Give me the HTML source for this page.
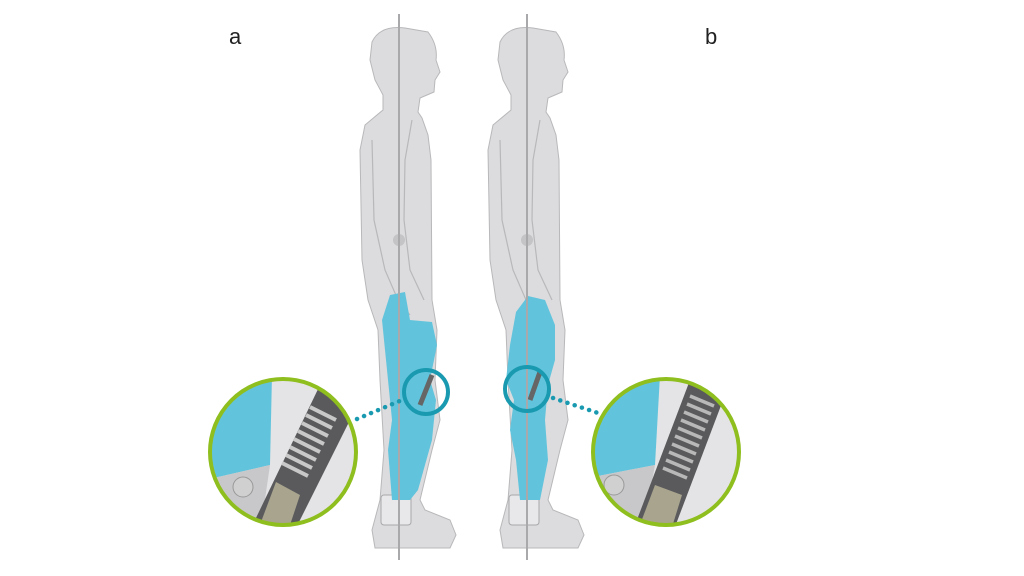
<!DOCTYPE html>
<html><head><style>body{margin:0;background:#fff}svg{display:block}</style></head><body>
<svg width="1024" height="576" viewBox="0 0 1024 576" xmlns="http://www.w3.org/2000/svg">
<rect width="1024" height="576" fill="#fff"/>
<defs>
<g id="man">
<path d="M372,42 Q380,25 405,28 L428,32 Q438,45 436,60 L440,72 L435,80 L434,92 L420,98 L418,112 L422,118 L428,135 L431,160 L432,300 L437,330 L435,380 L440,420 L432,450 L420,500 L425,510 L450,520 L456,535 L450,548 L375,548 L372,530 L380,500 L384,450 L380,380 L378,330 L368,300 L362,260 L360,150 L365,125 L383,110 L383,95 L375,80 L370,60 Z" fill="#dcdcde" stroke="#b8b8ba" stroke-width="1"/>
<path d="M372,140 L374,220 L385,270 L398,300 L410,315" fill="none" stroke="#b8b8ba" stroke-width="1.2"/>
<path d="M412,120 L405,160 L404,220 L410,270 L424,300" fill="none" stroke="#b8b8ba" stroke-width="1.2"/>
<circle cx="399" cy="240" r="6" fill="#c4c4c6"/>
<rect x="381" y="495" width="30" height="30" rx="3" fill="#e8e8ea" stroke="#a8a8aa"/>
</g>
</defs>
<use href="#man"/>
<use href="#man" transform="translate(128,0)"/>
<path d="M390,295 L405,292 L410,320 L432,322 L437,345 L430,380 L436,400 L432,440 L418,490 L410,500 L392,500 L388,450 L392,420 L388,380 L384,340 L382,320 Z" fill="#62c4dc"/>
<path d="M516,312 L528,296 L545,300 L555,325 L555,360 L548,385 L545,420 L548,460 L540,500 L520,500 L516,460 L510,430 L514,400 L506,380 L510,345 Z" fill="#62c4dc"/>
<!-- actuators -->
<line x1="432" y1="375" x2="420" y2="405" stroke="#666" stroke-width="5"/>
<line x1="540" y1="372" x2="530" y2="400" stroke="#666" stroke-width="5"/>
<line x1="399" y1="14" x2="399" y2="560" stroke="#a9a9ab" stroke-width="2"/>
<line x1="527" y1="14" x2="527" y2="560" stroke="#a9a9ab" stroke-width="2"/>
<circle cx="426" cy="392" r="22" fill="none" stroke="#1a9ab0" stroke-width="4"/>
<circle cx="527" cy="389" r="22" fill="none" stroke="#1a9ab0" stroke-width="4"/>
<line x1="357" y1="419" x2="402" y2="400" stroke="#1a9ab0" stroke-width="4.5" stroke-linecap="round" stroke-dasharray="0.1 7.5"/>
<line x1="553" y1="398" x2="598" y2="413" stroke="#1a9ab0" stroke-width="4.5" stroke-linecap="round" stroke-dasharray="0.1 7.5"/>
<!-- zoom circles -->
<clipPath id="c1"><circle cx="283" cy="452" r="73"/></clipPath>
<clipPath id="c2"><circle cx="666" cy="452" r="73"/></clipPath>
<g clip-path="url(#c1)">
<rect x="200" y="370" width="170" height="170" fill="#e4e4e6"/>
<path d="M205,375 L272,375 L270,465 L205,480 Z" fill="#62c4dc"/>
<path d="M205,480 L270,465 L262,520 L205,530 Z" fill="#c8c8ca"/>
<path d="M320,385 L355,410 L290,540 L255,520 Z" fill="#5a5a5c"/>
<g stroke="#c8c8c8" stroke-width="4">
<line x1="310" y1="407" x2="336" y2="420"/><line x1="306" y1="415" x2="332" y2="428"/>
<line x1="302" y1="423" x2="328" y2="436"/><line x1="298" y1="431" x2="324" y2="444"/>
<line x1="294" y1="439" x2="320" y2="452"/><line x1="290" y1="447" x2="316" y2="460"/>
<line x1="286" y1="455" x2="312" y2="468"/><line x1="282" y1="463" x2="308" y2="476"/>
</g>
<path d="M276,482 L300,495 L285,540 L258,530 Z" fill="#a8a48e"/>
<circle cx="243" cy="487" r="10" fill="#d0d0d0" stroke="#999"/>
</g>
<g clip-path="url(#c2)">
<rect x="583" y="370" width="170" height="170" fill="#e4e4e6"/>
<path d="M588,375 L660,375 L655,465 L588,478 Z" fill="#62c4dc"/>
<path d="M588,478 L655,465 L645,520 L588,530 Z" fill="#c8c8ca"/>
<path d="M690,380 L725,395 L670,540 L635,525 Z" fill="#5a5a5c"/>
<g stroke="#b8b8b8" stroke-width="3.5">
<line x1="690" y1="396" x2="714" y2="406"/><line x1="687" y1="404" x2="711" y2="414"/>
<line x1="684" y1="412" x2="708" y2="422"/><line x1="681" y1="420" x2="705" y2="430"/>
<line x1="678" y1="428" x2="702" y2="438"/><line x1="675" y1="436" x2="699" y2="446"/>
<line x1="672" y1="444" x2="696" y2="454"/><line x1="669" y1="452" x2="693" y2="462"/>
<line x1="666" y1="460" x2="690" y2="470"/><line x1="663" y1="468" x2="687" y2="478"/>
</g>
<path d="M655,485 L682,495 L668,540 L638,530 Z" fill="#a8a48e"/>
<circle cx="614" cy="485" r="10" fill="#d0d0d0" stroke="#999"/>
</g>
<circle cx="283" cy="452" r="73" fill="none" stroke="#8fbe1f" stroke-width="4"/>
<circle cx="666" cy="452" r="73" fill="none" stroke="#8fbe1f" stroke-width="4"/>
<text x="229" y="44" font-family="Liberation Sans, sans-serif" font-size="22" fill="#222">a</text>
<text x="705" y="44" font-family="Liberation Sans, sans-serif" font-size="22" fill="#222">b</text>
</svg>
</body></html>
